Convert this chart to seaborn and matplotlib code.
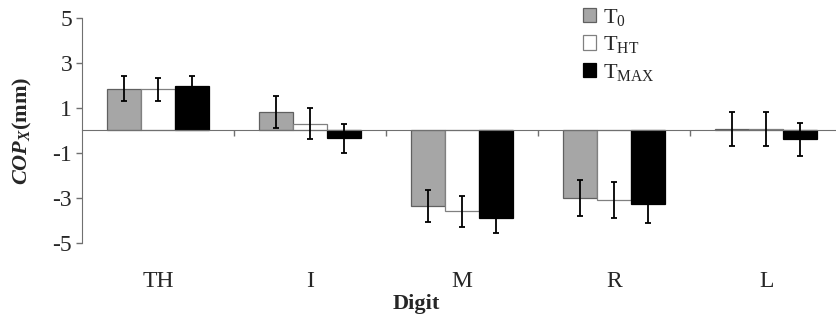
import numpy as np
import pandas as pd
import seaborn as sns
import matplotlib.pyplot as plt

digits = ["TH", "I", "M", "R", "L"]
conditions = ["T0", "THT", "TMAX"]
legend_labels = [r"T$_{\mathrm{0}}$", r"T$_{\mathrm{HT}}$", r"T$_{\mathrm{MAX}}$"]

t0_mean = [1.85, 0.82, -3.35, -2.98, 0.05]
t0_err = [0.55, 0.70, 0.70, 0.80, 0.75]
tht_mean = [1.82, 0.30, -3.60, -3.08, 0.05]
tht_err = [0.50, 0.68, 0.68, 0.80, 0.75]
tmax_mean = [1.96, -0.35, -3.87, -3.26, -0.40]
tmax_err = [0.48, 0.65, 0.68, 0.85, 0.75]

colors = ["#a6a6a6", "#ffffff", "#000000"]
edges = ["#606060", "#808080", "#000000"]

means = [t0_mean, tht_mean, tmax_mean]
errs = [t0_err, tht_err, tmax_err]

rows = []
for c, m in zip(conditions, means):
    for d, v in zip(digits, m):
        rows.append({"Digit": d, "Condition": c, "COP": v})
df = pd.DataFrame(rows)

sns.set_style("white")
plt.rcParams["font.family"] = ["Liberation Serif", "DejaVu Serif"]
plt.rcParams["mathtext.fontset"] = "custom"
plt.rcParams["mathtext.rm"] = "Liberation Serif"
plt.rcParams["mathtext.it"] = "Liberation Serif:italic:bold"
plt.rcParams["mathtext.bf"] = "Liberation Serif:bold"

fig = plt.figure(figsize=(8.36, 3.2), dpi=100)
ax = fig.add_axes([0.098, 0.2406, 0.902, 0.7034])

sns.barplot(data=df, x="Digit", y="COP", hue="Condition", order=digits,
            hue_order=conditions, palette=colors, errorbar=None,
            width=0.67, gap=0, ax=ax, legend=False)

# style bars per hue and add error bars
bar_groups = list(ax.containers)
for i, cont in enumerate(bar_groups):
    for bar, e in zip(cont, errs[i]):
        bar.set_facecolor(colors[i])
        bar.set_edgecolor(edges[i])
        bar.set_linewidth(0.9)
        xc = bar.get_x() + bar.get_width() / 2
        ax.errorbar(xc, bar.get_height(), yerr=e, fmt="none", ecolor="black",
                    elinewidth=1.3, capsize=2.5, capthick=1.3, zorder=5)

ax.set_ylim(-5, 5)
ax.set_yticks([5, 3, 1, -1, -3, -5])
ax.set_yticklabels(["5", "3", "1", "-1", "-3", "-5"], fontsize=17)
ax.set_xlim(-0.5, 4.46)

for s in ["top", "right"]:
    ax.spines[s].set_visible(False)
ax.spines["left"].set_color("#707070")
ax.spines["bottom"].set_color("#707070")
ax.spines["bottom"].set_position(("data", 0))
ax.tick_params(axis="y", left=True, direction="out", length=4, color="#707070",
               width=1, pad=3)

ax.set_xticks([0.5, 1.5, 2.5, 3.5])
ax.set_xticklabels([])
ax.tick_params(axis="x", which="major", bottom=True, direction="out", length=4,
               color="#707070", width=1)
ax.set_xticks(range(len(digits)), minor=True)
ax.set_xticklabels(digits, minor=True, fontsize=17)
ax.tick_params(axis="x", which="minor", bottom=True, length=0, pad=101)

ax.set_xlabel("Digit", fontsize=16, fontweight="bold")
ax.xaxis.set_label_coords(0.443, -0.225)
ax.set_ylabel(r"$COP_{X}$(mm)", fontsize=16, fontweight="bold")
ax.yaxis.set_label_coords(-0.063, 0.5)

handles = [plt.Rectangle((0, 0), 1, 1, facecolor=c, edgecolor=e, linewidth=0.9)
           for c, e in zip(colors, edges)]
ax.legend(handles, legend_labels, loc="upper left", bbox_to_anchor=(0.664, 1.05),
          frameon=False, fontsize=16, handlelength=0.6, handleheight=0.6,
          handletextpad=0.3, labelspacing=0.3, borderpad=0, borderaxespad=0)

fig.savefig("out.png", dpi=100)
